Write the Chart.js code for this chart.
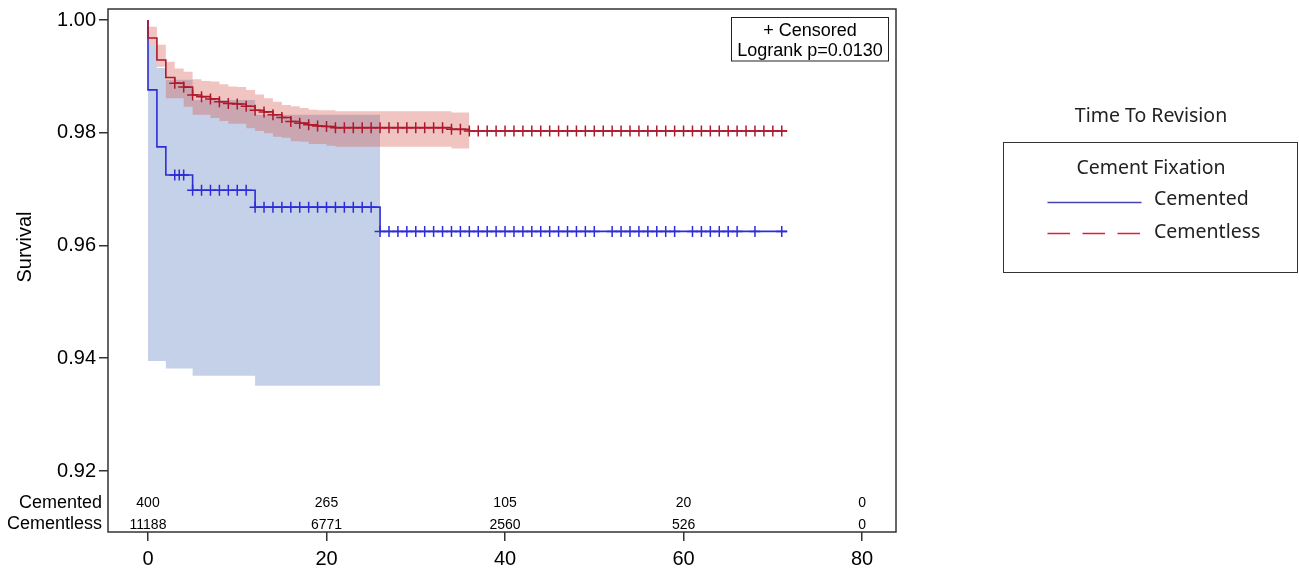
<!DOCTYPE html>
<html>
<head>
<meta charset="utf-8">
<script src="https://cdn.jsdelivr.net/npm/chart.js@4/dist/chart.umd.min.js"></script>
<style>
  html, body { margin: 0; padding: 0; background: #fff; }
  #wrap { width: 1299px; height: 569px; position: relative; }
</style>
</head>
<body>
<div id="wrap"><canvas id="km" width="1299" height="569"></canvas></div>
<script>
// ---- axis ticks ----
const xTicks = [0, 20, 40, 60, 80];
const yTicks = [0.92, 0.94, 0.96, 0.98, 1.00];

// ---- number at risk ----
const riskTimes = [0, 20, 40, 60, 80];
const riskCemented = [400, 265, 105, 20, 0];
const riskCementless = [11188, 6771, 2560, 526, 0];

// ---- Cemented: Kaplan-Meier steps (survival after each event time) ----
const cemTimes = [0, 1, 2, 5, 12, 26];
const cemSurv = [0.9876, 0.9775, 0.9725, 0.9698, 0.9668, 0.9625];
const cemLastTime = 71.6;
const cemBandTimes = [0, 1, 2, 5, 12];
const cemUpper = [0.9956, 0.9915, 0.9894, 0.9858, 0.9832];
const cemLower = [0.9395, 0.9395, 0.9382, 0.9369, 0.9351];
const cemBandEnd = 26;
const cemCensored = [3, 3.5, 4, 5, 6, 7, 8, 9, 10, 11, 12, 13, 14, 15, 16, 17, 18, 19, 20,
  21, 22, 23, 24, 25, 26, 27, 28, 29, 30, 31, 32, 33, 34, 35, 36, 37, 38, 39, 40, 41, 42,
  43, 44, 45, 46, 47, 48, 49, 50, 52, 53, 54, 55, 56, 57, 58, 59, 61, 62, 63, 64, 65, 66,
  68, 71];

// ---- Cementless: Kaplan-Meier steps ----
const cmlTimes = [0, 1, 2, 3, 4, 5, 6, 7, 8, 9, 10, 11, 12, 13, 14, 15, 16, 17, 18, 19, 20, 21, 34, 36];
const cmlSurv = [0.9968, 0.9929, 0.9898, 0.9888, 0.9881, 0.9867, 0.9864, 0.9860, 0.9855, 0.9852,
  0.9851, 0.9847, 0.9840, 0.9837, 0.9832, 0.9827, 0.9820, 0.9817, 0.9814, 0.9812, 0.9811,
  0.9809, 0.9806, 0.9803];
const cmlLastTime = 71.6;
const cmlBandTimes = [0, 1, 2, 3, 4, 5, 6, 7, 8, 9, 10, 11, 12, 13, 14, 15, 16, 17, 18, 19, 20, 21, 34];
const cmlUpper = [0.9988, 0.9956, 0.9926, 0.9914, 0.9908, 0.9895, 0.9892, 0.9891, 0.9886, 0.9882,
  0.9881, 0.9876, 0.9868, 0.9861, 0.9855, 0.9849, 0.9847, 0.9844, 0.9841, 0.9840, 0.9840,
  0.9838, 0.9836];
const cmlLower = [0.9956, 0.9917, 0.9861, 0.9861, 0.9846, 0.9832, 0.9832, 0.9826, 0.9821, 0.9816,
  0.9816, 0.9808, 0.9803, 0.9799, 0.9793, 0.9791, 0.9785, 0.9784, 0.9780, 0.9780, 0.9777,
  0.9775, 0.9772];
const cmlBandEnd = 36;
const cmlCensored = [3, 4, 5, 6, 7, 8, 9, 10, 11, 12, 13, 14, 15, 16, 17, 18, 19, 20, 21, 22,
  23, 24, 25, 26, 27, 28, 29, 30, 31, 32, 33, 34, 35, 36, 37, 38, 39, 40, 41, 42, 43, 44, 45,
  46, 47, 48, 49, 50, 51, 52, 53, 54, 55, 56, 57, 58, 59, 60, 61, 62, 63, 64, 65, 66, 67, 68,
  69, 70, 71];

// ---- colours & fonts ----
const BLUE = 'rgb(45,45,215)';
const RED = 'rgb(175,25,45)';
const BLUE_BAND = 'rgba(110,140,197,0.4)';
const RED_BAND = 'rgba(212,86,75,0.35)';
const LEGEND_BLUE = 'rgb(70,70,175)';
const LEGEND_RED = 'rgb(225,30,55)';
const FONT = '"Liberation Sans", Arial, sans-serif';
const LFONT = '"Noto Sans", "Open Sans", sans-serif';

// step function -> explicit corner points
function stepPoints(times, values, endTime, startValue) {
  const pts = [];
  if (startValue !== undefined) pts.push({ x: times[0], y: startValue });
  times.forEach((t, i) => {
    const next = i + 1 < times.length ? times[i + 1] : endTime;
    pts.push({ x: t, y: values[i] });
    pts.push({ x: next, y: values[i] });
  });
  return pts;
}
function survivalAt(times, values, t) {
  let s = 1;
  times.forEach((tt, i) => { if (tt <= t) s = values[i]; });
  return s;
}
const censorPoints = (cens, times, values) => cens.map(t => ({ x: t, y: survivalAt(times, values, t) }));

const lineDefaults = { pointRadius: 0, fill: false, tension: 0 };

const datasets = [
  { label: 'Cementless censored', data: censorPoints(cmlCensored, cmlTimes, cmlSurv), showLine: false,
    pointStyle: 'cross', pointRadius: 5.5, pointBorderWidth: 1.5, pointBorderColor: RED, order: 0 },
  { label: 'Cementless', data: stepPoints(cmlTimes, cmlSurv, cmlLastTime, 1.0), borderColor: RED,
    borderWidth: 1.6, ...lineDefaults, order: 1 },
  { label: 'Cemented censored', data: censorPoints(cemCensored, cemTimes, cemSurv), showLine: false,
    pointStyle: 'cross', pointRadius: 5.5, pointBorderWidth: 1.5, pointBorderColor: BLUE, order: 2 },
  { label: 'Cemented', data: stepPoints(cemTimes, cemSurv, cemLastTime, 1.0), borderColor: BLUE,
    borderWidth: 1.6, ...lineDefaults, order: 3 },
  { label: 'Cementless upper', data: stepPoints(cmlBandTimes, cmlUpper, cmlBandEnd), borderWidth: 0,
    ...lineDefaults, fill: '+1', backgroundColor: RED_BAND, order: 4 },
  { label: 'Cementless lower', data: stepPoints(cmlBandTimes, cmlLower, cmlBandEnd), borderWidth: 0,
    ...lineDefaults, order: 5 },
  { label: 'Cemented upper', data: stepPoints(cemBandTimes, cemUpper, cemBandEnd), borderWidth: 0,
    ...lineDefaults, fill: '+1', backgroundColor: BLUE_BAND, order: 6 },
  { label: 'Cemented lower', data: stepPoints(cemBandTimes, cemLower, cemBandEnd), borderWidth: 0,
    ...lineDefaults, order: 7 }
];

// frame, axis title, number-at-risk rows, inset and group legend
const decorations = {
  id: 'decorations',
  afterDatasetsDraw(chart) {
    const { ctx, chartArea: a, scales: { x, y } } = chart;
    ctx.save();
    // plot frame
    ctx.strokeStyle = '#333';
    ctx.lineWidth = 1.5;
    ctx.strokeRect(a.left, a.top, a.right - a.left, a.bottom - a.top);

    // y axis title, centred over the curve region
    ctx.fillStyle = '#000';
    ctx.font = '20px ' + FONT;
    ctx.textAlign = 'center';
    ctx.textBaseline = 'middle';
    ctx.save();
    ctx.translate(25, (a.top + y.getPixelForValue(yTicks[0]) + 14) / 2);
    ctx.rotate(-Math.PI / 2);
    ctx.fillText('Survival', 0, 0);
    ctx.restore();

    // number at risk
    ctx.textBaseline = 'alphabetic';
    ctx.font = '14px ' + FONT;
    ctx.textAlign = 'center';
    riskTimes.forEach((t, i) => {
      const px = x.getPixelForValue(t);
      ctx.fillText(String(riskCemented[i]), px, a.bottom - 25);
      ctx.fillText(String(riskCementless[i]), px, a.bottom - 3.5);
    });
    ctx.font = '18px ' + FONT;
    ctx.textAlign = 'right';
    ctx.fillText('Cemented', a.left - 6, a.bottom - 24.5);
    ctx.fillText('Cementless', a.left - 6, a.bottom - 3);

    // inset: censor symbol + log-rank test
    ctx.strokeStyle = '#222';
    ctx.lineWidth = 1;
    ctx.strokeRect(731.5, 17.5, 157, 43.5);
    ctx.textAlign = 'center';
    ctx.font = '18px ' + FONT;
    ctx.fillText('+ Censored', 810, 36);
    ctx.fillText('Logrank p=0.0130', 810, 56);

    // group legend
    ctx.fillStyle = '#222';
    ctx.font = '19.5px ' + LFONT;
    ctx.fillText('Time To Revision', 1151, 122);
    ctx.strokeStyle = '#333';
    ctx.strokeRect(1003.5, 142.5, 294, 130);
    ctx.fillText('Cement Fixation', 1151, 174);
    ctx.textAlign = 'left';
    ctx.fillText('Cemented', 1154, 205);
    ctx.fillText('Cementless', 1154, 238);
    ctx.lineWidth = 1.5;
    ctx.strokeStyle = LEGEND_BLUE;
    ctx.beginPath(); ctx.moveTo(1047.5, 202.5); ctx.lineTo(1141.5, 202.5); ctx.stroke();
    ctx.strokeStyle = LEGEND_RED;
    ctx.setLineDash([22.5, 12.5]);
    ctx.beginPath(); ctx.moveTo(1047.5, 233.5); ctx.lineTo(1141.5, 233.5); ctx.stroke();
    ctx.restore();
  }
};

new Chart(document.getElementById('km'), {
  type: 'line',
  data: { datasets },
  options: {
    responsive: false,
    animation: false,
    events: [],
    layout: { padding: { left: 0, top: 9, right: 403, bottom: 0 } },
    plugins: { legend: { display: false }, tooltip: { enabled: false } },
    scales: {
      x: {
        type: 'linear', min: -4.48, max: 83.8,
        afterBuildTicks: a => { a.ticks = xTicks.map(v => ({ value: v })); },
        afterFit: a => { a.height = 37; a.paddingLeft = 0; a.paddingRight = 0; },
        border: { display: false },
        grid: { drawOnChartArea: false, drawTicks: true, tickLength: 9, color: '#333', lineWidth: 1.5 },
        ticks: { font: { family: FONT, size: 20 }, color: '#000', padding: 6, maxRotation: 0, autoSkip: false }
      },
      y: {
        type: 'linear', min: 0.90918, max: 1.00195,
        afterBuildTicks: a => { a.ticks = yTicks.map(v => ({ value: v })); },
        afterFit: a => { a.width = 108; a.paddingTop = 0; a.paddingBottom = 0; },
        border: { display: false },
        grid: { drawOnChartArea: false, drawTicks: true, tickLength: 9, color: '#333', lineWidth: 1.5 },
        ticks: { font: { family: FONT, size: 20 }, color: '#000', padding: 3,
          callback: v => Number(v).toFixed(2) }
      }
    }
  },
  plugins: [decorations]
});
</script>
</body>
</html>
